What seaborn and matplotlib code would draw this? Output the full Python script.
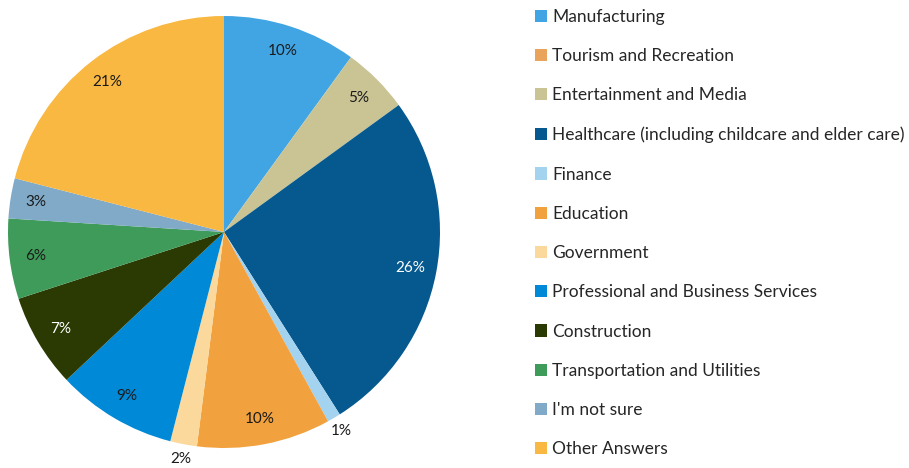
import numpy as np
import matplotlib
matplotlib.use("Agg")
import matplotlib.pyplot as plt
import seaborn as sns
from matplotlib.patches import Patch

categories = [
    "Manufacturing",
    "Tourism and Recreation",
    "Entertainment and Media",
    "Healthcare (including childcare and elder care)",
    "Finance",
    "Education",
    "Government",
    "Professional and Business Services",
    "Construction",
    "Transportation and Utilities",
    "I'm not sure",
    "Other Answers",
]
shares = [10, 0, 5, 26, 1, 10, 2, 9, 7, 6, 3, 21]
colors = [
    "#41a5e4", "#e9a35b", "#cac494", "#05598f", "#a4d3f0", "#f1a13d",
    "#fbd89c", "#0089d6", "#2a3a02", "#3f9b59", "#80aac8", "#f9b841",
]
light_text = {"Healthcare (including childcare and elder care)", "Construction"}

sns.set_theme(style="white")
plt.rcParams["font.family"] = ["Lato", "DejaVu Sans"]

fig = plt.figure(figsize=(9.09, 4.68), dpi=100)
W, H = 909, 468
cx, cy, r = 224, 232, 216
ax = fig.add_axes([(cx - r) / W, (H - cy - r) / H, 2 * r / W, 2 * r / H])

wedges, _ = ax.pie(
    shares, colors=colors, startangle=90, counterclock=False,
    radius=1.0, wedgeprops=dict(linewidth=0),
)
ax.set_xlim(-1, 1)
ax.set_ylim(-1, 1)
ax.set_aspect("equal")
ax.axis("off")

for w, name, v in zip(wedges, categories, shares):
    if v <= 0:
        continue
    mid = np.deg2rad((w.theta1 + w.theta2) / 2)
    dist = 0.88 if v >= 3 else 1.07
    color = "white" if (name in light_text and v >= 3) else "#1a1a1a"
    ax.text(dist * np.cos(mid), dist * np.sin(mid), f"{v}%",
            ha="center", va="center", fontsize=11, color=color, clip_on=False)

handles = [Patch(facecolor=c, edgecolor="none") for c in colors]
fig.legend(
    handles, categories, loc="upper left",
    bbox_to_anchor=(528 / W, 1 - 2 / H), frameon=False,
    fontsize=12.5, handlelength=0.7, handleheight=0.7,
    handletextpad=0.3, labelspacing=1.34, borderaxespad=0,
)

fig.savefig("out.png", dpi=100, facecolor="white")
